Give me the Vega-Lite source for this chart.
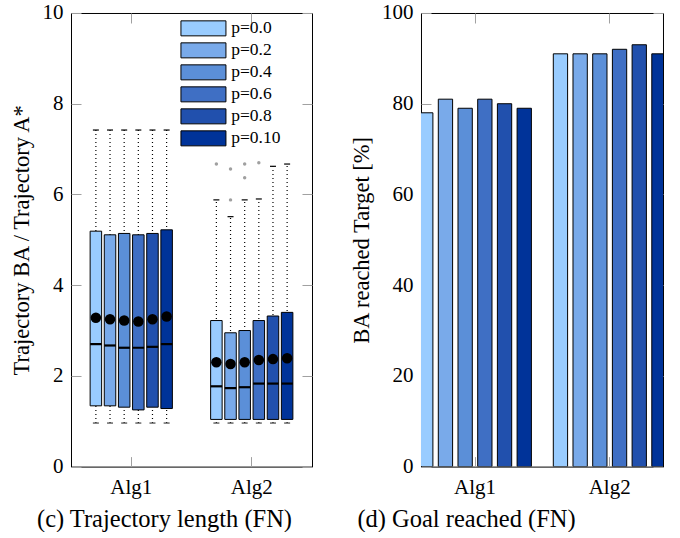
{
  "$schema": "https://vega.github.io/schema/vega-lite/v6.json",
  "padding": {"left": 9, "top": 1, "right": 0, "bottom": 0},
  "config": {
    "font": "Liberation Serif",
    "view": {"stroke": "black", "strokeWidth": 1},
    "axis": {
      "domain": false, "grid": false, "tickColor": "#a0a0a0", "tickSize": -10, "tickWidth": 1,
      "labelFontSize": 21, "titleFontSize": 22.5, "labelColor": "black", "titleColor": "black",
      "titleFontWeight": "normal", "labelFont": "Liberation Serif", "titleFont": "Liberation Serif",
      "labelAngle": 0
    },
    "legend": {"labelFont": "Liberation Serif"}
  },
  "datasets": {
    "boxes": [
      {"alg": "Alg1", "p": "p=0.0", "lo": 0.96, "q1": 1.34, "med": 2.70, "q3": 5.19, "hi": 7.42, "mean": 3.28},
      {"alg": "Alg1", "p": "p=0.2", "lo": 0.96, "q1": 1.34, "med": 2.67, "q3": 5.11, "hi": 7.42, "mean": 3.25},
      {"alg": "Alg1", "p": "p=0.4", "lo": 0.96, "q1": 1.31, "med": 2.62, "q3": 5.14, "hi": 7.42, "mean": 3.22},
      {"alg": "Alg1", "p": "p=0.6", "lo": 0.96, "q1": 1.25, "med": 2.62, "q3": 5.11, "hi": 7.42, "mean": 3.20},
      {"alg": "Alg1", "p": "p=0.8", "lo": 0.96, "q1": 1.31, "med": 2.64, "q3": 5.14, "hi": 7.42, "mean": 3.25},
      {"alg": "Alg1", "p": "p=0.10", "lo": 0.96, "q1": 1.28, "med": 2.70, "q3": 5.22, "hi": 7.42, "mean": 3.31},
      {"alg": "Alg2", "p": "p=0.0", "lo": 0.96, "q1": 1.04, "med": 1.77, "q3": 3.22, "hi": 5.88, "mean": 2.30},
      {"alg": "Alg2", "p": "p=0.2", "lo": 0.96, "q1": 1.04, "med": 1.73, "q3": 2.95, "hi": 5.51, "mean": 2.26},
      {"alg": "Alg2", "p": "p=0.4", "lo": 0.96, "q1": 1.04, "med": 1.75, "q3": 3.00, "hi": 5.88, "mean": 2.30},
      {"alg": "Alg2", "p": "p=0.6", "lo": 0.96, "q1": 1.04, "med": 1.83, "q3": 3.22, "hi": 5.90, "mean": 2.35},
      {"alg": "Alg2", "p": "p=0.8", "lo": 0.96, "q1": 1.04, "med": 1.83, "q3": 3.32, "hi": 6.62, "mean": 2.37},
      {"alg": "Alg2", "p": "p=0.10", "lo": 0.96, "q1": 1.04, "med": 1.83, "q3": 3.40, "hi": 6.67, "mean": 2.39}
    ],
    "outliers": [
      {"alg": "Alg2", "p": "p=0.0", "value": 6.67},
      {"alg": "Alg2", "p": "p=0.2", "value": 6.56},
      {"alg": "Alg2", "p": "p=0.2", "value": 5.88},
      {"alg": "Alg2", "p": "p=0.4", "value": 6.67},
      {"alg": "Alg2", "p": "p=0.4", "value": 6.37},
      {"alg": "Alg2", "p": "p=0.6", "value": 6.70}
    ],
    "goal": [
      {"alg": "Alg1", "p": "p=0.0", "value": 78},
      {"alg": "Alg1", "p": "p=0.2", "value": 81},
      {"alg": "Alg1", "p": "p=0.4", "value": 79},
      {"alg": "Alg1", "p": "p=0.6", "value": 81},
      {"alg": "Alg1", "p": "p=0.8", "value": 80},
      {"alg": "Alg1", "p": "p=0.10", "value": 79},
      {"alg": "Alg2", "p": "p=0.0", "value": 91},
      {"alg": "Alg2", "p": "p=0.2", "value": 91},
      {"alg": "Alg2", "p": "p=0.4", "value": 91},
      {"alg": "Alg2", "p": "p=0.6", "value": 92},
      {"alg": "Alg2", "p": "p=0.8", "value": 93},
      {"alg": "Alg2", "p": "p=0.10", "value": 91}
    ]
  },
  "bounds": "flush",
  "spacing": 109,
  "resolve": {
    "scale": {"color": "independent", "x": "independent", "y": "independent", "xOffset": "independent"},
    "legend": {"color": "independent"}
  },
  "hconcat": [
    {
      "width": 241,
      "height": 453.6,
      "data": {"name": "boxes"},
      "resolve": {"axis": {"x": "independent", "y": "independent"}},
      "layer": [
        {
          "encoding": {
            "x": {"field": "alg", "type": "nominal", "scale": {"paddingInner": 0.2, "paddingOuter": 0.1},
                  "axis": {"labelPadding": 20, "title": "(c) Trajectory length (FN)", "titleFontSize": 24.5, "titleX": 93, "titleY": 60, "titleAlign": "center", "titleBaseline": "alphabetic"}},
            "xOffset": {"field": "p", "type": "nominal",
                        "scale": {"domain": ["p=0.0", "p=0.2", "p=0.4", "p=0.6", "p=0.8", "p=0.10"], "paddingInner": 0.187, "paddingOuter": 0.5}}
          },
          "layer": [
            {
              "mark": {"type": "rule", "color": "black", "strokeWidth": 1.2, "strokeDash": [1, 3]},
              "encoding": {
                "y": {"field": "lo", "type": "quantitative", "scale": {"domain": [0, 10], "nice": false},
                      "axis": {"values": [0, 2, 4, 6, 8, 10], "labelPadding": 18, "title": "Trajectory BA / Trajectory A*", "titlePadding": 9}},
                "y2": {"field": "hi"}
              }
            },
            {
              "mark": {"type": "bar", "stroke": "black", "strokeWidth": 1},
              "encoding": {
                "y": {"field": "q1", "type": "quantitative"},
                "y2": {"field": "q3"},
                "color": {"field": "p", "type": "nominal",
                          "scale": {"domain": ["p=0.0", "p=0.2", "p=0.4", "p=0.6", "p=0.8", "p=0.10"],
                                    "range": ["#99ccff", "#79aaea", "#5b8fd8", "#3f6fc4", "#2150ad", "#003399"]},
                          "legend": {"title": null, "orient": "none", "legendX": 123.7, "legendY": 6.6,
                                     "symbolType": "M-3,-1H3V1H-3Z", "symbolSize": 225, "symbolStrokeColor": "black",
                                     "symbolStrokeWidth": 1, "symbolOpacity": 1, "labelFontSize": 17.5, "labelOffset": 19,
                                     "rowPadding": 2, "padding": 0, "labelColor": "black"}}
              }
            },
            {
              "mark": {"type": "tick", "color": "black", "size": 11.5, "thickness": 2.2, "opacity": 1},
              "encoding": {"y": {"field": "med", "type": "quantitative"}}
            },
            {
              "mark": {"type": "point", "filled": true, "color": "black", "size": 110, "opacity": 1},
              "encoding": {"y": {"field": "mean", "type": "quantitative"}}
            },
            {
              "mark": {"type": "tick", "color": "black", "size": 6, "thickness": 1.2, "opacity": 1},
              "encoding": {"y": {"field": "hi", "type": "quantitative"}}
            },
            {
              "mark": {"type": "tick", "color": "#444", "size": 6, "thickness": 1.2, "opacity": 1},
              "encoding": {"y": {"field": "lo", "type": "quantitative"}}
            },
            {
              "data": {"name": "outliers"},
              "mark": {"type": "point", "filled": true, "color": "#a0a0a0", "size": 12, "opacity": 1},
              "encoding": {"y": {"field": "value", "type": "quantitative"}}
            }
          ]
        },
        {
          "mark": {"type": "point", "opacity": 0},
          "encoding": {
            "x": {"field": "alg", "type": "nominal", "axis": {"orient": "top", "labels": false, "title": null}},
            "xOffset": {"field": "p", "type": "nominal"},
            "y": {"field": "mean", "type": "quantitative", "axis": {"orient": "right", "labels": false, "title": null, "values": [0, 2, 4, 6, 8, 10]}}
          }
        }
      ]
    },
    {
      "width": 242,
      "height": 453.6,
      "data": {"name": "goal"},
      "encoding": {
        "x": {"field": "alg", "type": "nominal", "scale": {"range": [-13.35, 256.05], "paddingInner": 0, "paddingOuter": 0},
              "axis": {"labelPadding": 20, "title": "(d) Goal reached (FN)", "titleFontSize": 24.5, "titleX": 45, "titleY": 60, "titleAlign": "center", "titleBaseline": "alphabetic"}},
        "xOffset": {"field": "p", "type": "nominal",
                    "scale": {"domain": ["p=0.0", "p=0.2", "p=0.4", "p=0.6", "p=0.8", "p=0.10"], "paddingInner": 0.274, "paddingOuter": 0.556}},
        "y": {"field": "value", "type": "quantitative", "scale": {"domain": [0, 100], "nice": false},
              "axis": {"values": [0, 20, 40, 60, 80, 100], "labelPadding": 18, "title": "BA reached Target [%]", "titlePadding": 8}}
      },
      "resolve": {"axis": {"x": "independent", "y": "independent"}},
      "layer": [
        {
          "mark": {"type": "bar", "stroke": "black", "strokeWidth": 1, "clip": true},
          "encoding": {
            "color": {"field": "p", "type": "nominal",
                      "scale": {"domain": ["p=0.0", "p=0.2", "p=0.4", "p=0.6", "p=0.8", "p=0.10"],
                                "range": ["#99ccff", "#79aaea", "#5b8fd8", "#3f6fc4", "#2150ad", "#003399"]},
                      "legend": null}
          }
        },
        {
          "mark": {"type": "bar", "opacity": 0, "clip": true},
          "encoding": {
            "x": {"field": "alg", "type": "nominal", "axis": {"orient": "top", "labels": false, "title": null}},
            "y": {"field": "value", "type": "quantitative", "axis": {"orient": "right", "labels": false, "title": null, "values": [0, 20, 40, 60, 80, 100]}}
          }
        }
      ]
    }
  ]
}
